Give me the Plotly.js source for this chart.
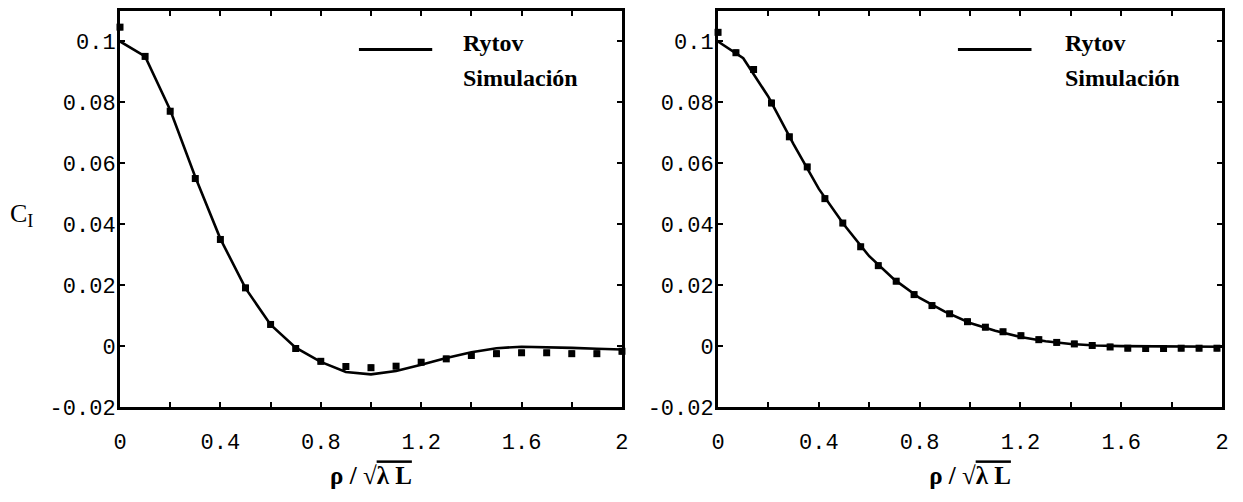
<!DOCTYPE html>
<html>
<head>
<meta charset="utf-8">
<script src="https://cdn.plot.ly/plotly-3.0.1.min.js"></script>
<style>html,body{margin:0;padding:0;background:#fff;}</style>
</head>
<body>
<div id="chart" style="width:1243px;height:502px;"></div>
<script>
// ---- data ----
const rytovX = [0,0.1,0.2,0.3,0.4,0.5,0.6,0.7,0.8,0.9,1.0,1.1,1.2,1.3,1.4,1.5,1.6,1.7,1.8,1.9,2.0];
const rytovLeft = [0.1000,0.0951,0.0775,0.0555,0.0352,0.0190,0.0070,-0.0005,-0.0052,-0.0085,-0.0093,-0.0082,-0.0061,-0.0039,-0.0020,-0.0007,-0.0002,-0.0003,-0.0006,-0.0009,-0.0011];
const simLeftX = [0,0.1,0.2,0.3,0.4,0.5,0.6,0.7,0.8,0.9,1.0,1.1,1.2,1.3,1.4,1.5,1.6,1.7,1.8,1.9,2.0];
const simLeft = [0.1047,0.0951,0.0771,0.0550,0.0350,0.0191,0.0071,-0.0008,-0.0050,-0.0067,-0.0071,-0.0066,-0.0053,-0.0042,-0.0031,-0.0025,-0.0022,-0.0022,-0.0025,-0.0025,-0.0017];

const rytovRight = [0.1000,0.0945,0.0818,0.0662,0.0516,0.0398,0.0295,0.0218,0.0158,0.0113,0.0076,0.0050,0.0030,0.0016,0.0007,0.0002,0.0000,-0.0001,-0.0002,-0.0002,-0.0002];
const simRightX = [0,0.071,0.141,0.212,0.283,0.354,0.424,0.495,0.566,0.636,0.707,0.778,0.849,0.919,0.990,1.061,1.131,1.202,1.273,1.344,1.414,1.485,1.556,1.626,1.697,1.768,1.838,1.909,1.980];
const simRight = [0.1030,0.0963,0.0908,0.0798,0.0687,0.0588,0.0484,0.0404,0.0326,0.0264,0.0213,0.0169,0.0133,0.0106,0.0080,0.0062,0.0047,0.0034,0.0021,0.0012,0.0007,0.0002,-0.0003,-0.0007,-0.0008,-0.0008,-0.0007,-0.0007,-0.0007];
const simErr = 0.0007;

const xTickVals = [0,0.4,0.8,1.2,1.6,2.0];
const xTickText = ['0','0.4','0.8','1.2','1.6','2'];
const xMinorStep = 0.2;
const yTickVals = [0.1,0.08,0.06,0.04,0.02,0,-0.02];
const yTickText = ['0.1','0.08','0.06','0.04','0.02','0','-0.02'];

const legendRytov = 'Rytov';
const legendSim = 'Simulación';
const xTitle = '<b>ρ / √<span style="text-decoration:overline">λ L</span></b>';
const yTitle = 'C<sub>I</sub>';

// ---- traces ----
const lineStyle = {color:'#000', width:2.6};
const markerStyle = {symbol:'square', size:7, color:'#000'};
const errStyle = {type:'constant', value:simErr, color:'#000', thickness:2, width:2.5};

const traces = [
  {x:rytovX, y:rytovLeft, mode:'lines', line:lineStyle, xaxis:'x', yaxis:'y', name:legendRytov, showlegend:false, hoverinfo:'skip'},
  {x:simLeftX, y:simLeft, mode:'markers', marker:markerStyle, error_y:errStyle, xaxis:'x', yaxis:'y', name:legendSim, showlegend:false, cliponaxis:false},
  {x:rytovX, y:rytovRight, mode:'lines', line:lineStyle, xaxis:'x2', yaxis:'y2', name:legendRytov, showlegend:false, hoverinfo:'skip'},
  {x:simRightX, y:simRight, mode:'markers', marker:markerStyle, error_y:errStyle, xaxis:'x2', yaxis:'y2', name:legendSim, showlegend:false, cliponaxis:false}
];

const tickFont = {family:'Liberation Mono, DejaVu Sans Mono, monospace', size:22, color:'#000'};
const titleFont = {family:'Liberation Serif, serif', size:25, color:'#000'};

function xAxis(domain, anchor){
  return {
    domain:domain, anchor:anchor, range:[0,2], showgrid:false, zeroline:false,
    showline:true, linecolor:'#000', linewidth:3, mirror:'ticks',
    ticks:'inside', ticklen:5, tickwidth:2, tickcolor:'#000',
    tickvals:xTickVals, ticktext:xTickText, tickfont:tickFont, ticklabelstandoff:13,
    minor:{dtick:xMinorStep, tick0:0, ticks:'inside', ticklen:5, tickwidth:2, tickcolor:'#000', showgrid:false},
    title:{text:xTitle, font:titleFont, standoff:12}
  };
}
function yAxis(anchor){
  return {
    domain:[0,1], anchor:anchor, range:[-0.02,0.11], showgrid:false, zeroline:false,
    showline:true, linecolor:'#000', linewidth:3, mirror:'ticks',
    ticks:'inside', ticklen:5, tickwidth:2, tickcolor:'#000',
    tickvals:yTickVals, ticktext:yTickText, tickfont:tickFont, ticklabelstandoff:-3
  };
}

const legFont = {family:'Liberation Serif, serif', size:24, color:'#000'};
function legendParts(xref, yref, tx){
  return {
    shape:{type:'line', xref:xref+' domain', yref:yref+' domain', x0:0.476, x1:0.622, y0:0.903, y1:0.903, line:{color:'#000', width:3}},
    anns:[
      {xref:xref+' domain', yref:yref+' domain', x:tx, y:0.92, xanchor:'left', yanchor:'middle', text:'<b>'+legendRytov+'</b>', showarrow:false, font:legFont},
      {xref:xref+' domain', yref:yref+' domain', x:tx, y:0.83, xanchor:'left', yanchor:'middle', text:'<b>'+legendSim+'</b>', showarrow:false, font:legFont}
    ]
  };
}
const legL = legendParts('x','y',0.68);
const legR = legendParts('x2','y2',0.685);

const layout = {
  width:1243, height:502,
  margin:{l:120, r:21, t:11, b:95},
  paper_bgcolor:'#fff', plot_bgcolor:'#fff',
  showlegend:false,
  xaxis:xAxis([0,0.4555],'y'),
  yaxis:yAxis('x'),
  xaxis2:xAxis([0.5427,1],'y2'),
  yaxis2:yAxis('x2'),
  shapes:[legL.shape, legR.shape],
  annotations:[...legL.anns, ...legR.anns,
    {xref:'paper', yref:'paper', x:-0.089, y:0.485, xanchor:'center', yanchor:'middle', text:yTitle, showarrow:false, font:{family:'Liberation Serif, serif', size:26, color:'#000'}}
  ]
};

Plotly.newPlot('chart', traces, layout, {displayModeBar:false, staticPlot:true});
</script>
</body>
</html>
